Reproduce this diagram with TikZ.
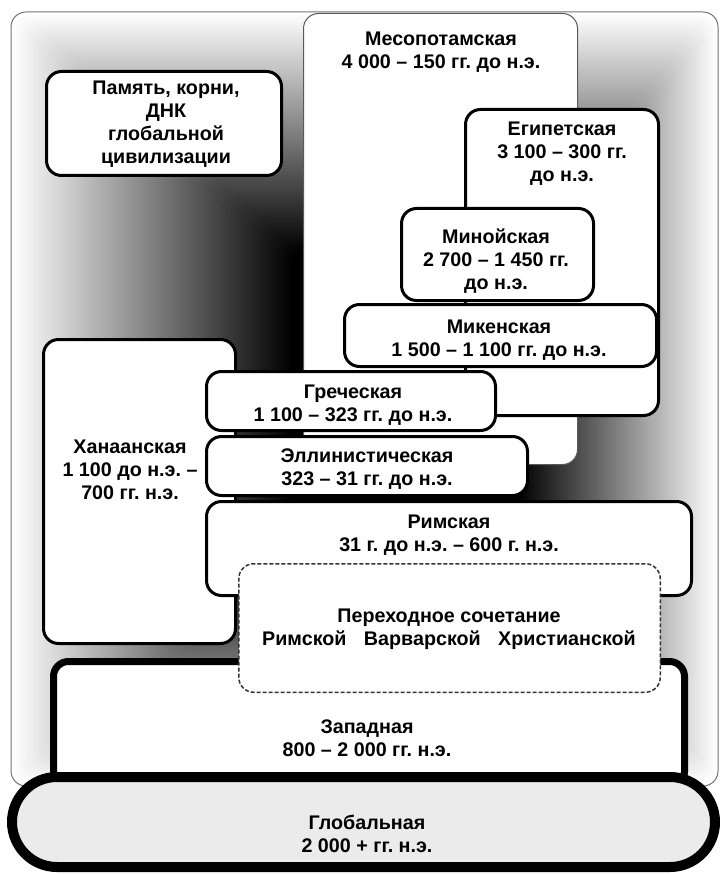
\documentclass[tikz,border=0pt]{standalone}
\usepackage{fontspec}
\setmainfont{Liberation Sans}
\frenchspacing
\begin{document}
\begin{tikzpicture}[x=1pt,y=-1pt,
  box/.style={draw=black, line width=3pt, fill=white, rounded corners=15pt, inner sep=0pt},
  lbl/.style={font=\bfseries\fontsize{19.7}{23}\selectfont, align=center, inner sep=0pt},
]
\useasboundingbox (0,0) rectangle (722,874);
\fill[white] (0,0) rectangle (722,874);
% frame with a centre-dark gradient (nested rectangles)
\foreach \k in {0,...,70}{
  \pgfmathsetmacro\t{\k/70}
  \pgfmathsetmacro\pc{100*\t}
  \fill[black!\pc, rounded corners=15pt] ({11+279*\t},{12+238*\t}) rectangle ({718-198*\t},{786-226*\t});
}
\draw[black!55, line width=1pt, rounded corners=15pt] (11,12) rectangle (718,786);

% memory box
\node[box, minimum width=235pt, minimum height=104pt] (pam) at (164,123.5) {};
\node[lbl] (tpam) at (166,124) {Память, корни,\\ДНК\\глобальной\\цивилизации};

% Mesopotamian
\node[box, draw=black!65, line width=1pt, minimum width=274pt, minimum height=451pt] (meso) at (440.5,239) {};
\node[lbl] (tmeso) at (441,52) {Месопотамская\\4 000 – 150 гг. до н.э.};

% Egyptian
\node[box, minimum width=193pt, minimum height=306pt] (egypt) at (562,262.5) {};
\node[lbl] (tegypt) at (562,154) {Египетская\\3 100 – 300 гг.\\до н.э.};

% Minoan
\node[box, minimum width=192pt, minimum height=92pt] (mino) at (497.5,254.5) {};
\node[lbl] (tmino) at (496,261.5) {Минойская\\2 700 – 1 450 гг.\\до н.э.};

% Mycenaean
\node[box, minimum width=312pt, minimum height=62pt] (myc) at (500.5,335.5) {};
\node[lbl] (tmyc) at (499,340.5) {Микенская\\1 500 – 1 100 гг. до н.э.};

% Canaanite
\node[box, minimum width=192pt, minimum height=304pt] (canaan) at (139.5,491.5) {};
\node[lbl] (tcanaan) at (130,469.5) {Ханаанская\\1 100 до н.э. –\\700 гг. н.э.};

% Greek
\node[box, minimum width=289pt, minimum height=59pt] (greek) at (351,401) {};
\node[lbl] (tgreek) at (353,405) {Греческая\\1 100 – 323 гг. до н.э.};

% Hellenistic
\node[box, minimum width=321pt, minimum height=59pt] (hell) at (367,466) {};
\node[lbl] (thell) at (367,469.5) {Эллинистическая\\323 – 31 гг. до н.э.};

% Roman
\node[box, minimum width=485pt, minimum height=94pt] (roman) at (449,548.5) {};
\node[lbl] (troman) at (449,535.5) {Римская\\31 г. до н.э. – 600 г. н.э.};

% Western
\node[box, line width=7pt, minimum width=631pt, minimum height=125pt] (west) at (369,724) {};
\node[lbl] (twest) at (367,738) {Западная\\800 – 2 000 гг. н.э.};

% Transitional (dashed)
\node[box, draw=black!80, line width=1.5pt, dash pattern=on 4pt off 2pt, minimum width=421.5pt, minimum height=128.5pt] (trans) at (449.5,628) {};
\node[lbl] (ttrans) at (449,629) {Переходное сочетание\\Римской\hspace{12pt} Варварской\hspace{12pt} Христианской};

% Global
\node[box, line width=10pt, fill=black!8, rounded corners=45pt, minimum width=703pt, minimum height=90pt] (global) at (363.5,822) {};
\node[lbl] (tglobal) at (367,834) {Глобальная\\2 000 + гг. н.э.};
\end{tikzpicture}
\end{document}
